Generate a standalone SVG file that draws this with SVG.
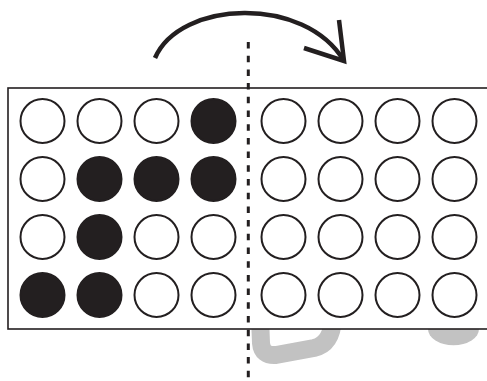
<svg xmlns="http://www.w3.org/2000/svg" width="487" height="381" viewBox="0 0 487 381">
<style>
.c{fill:#fff;stroke:#231f20;stroke-width:2}
.f{fill:#231f20;stroke:#231f20;stroke-width:2}
.gray{fill:none;stroke:#c2c2c2;stroke-width:18;stroke-linecap:round;stroke-linejoin:round}
</style>
<rect width="487" height="381" fill="#fff"/>
<g id="shadow">
<path class="gray" d="M260,318 L261,343 Q262,356 276,355 L314,348 Q332,344 333,318"/>
<path d="M428,329 A25,16 0 0 0 479,329 Z" fill="#c2c2c2"/>
</g>
<g id="board">
<rect x="8" y="88" width="490" height="241" fill="#fff" stroke="#231f20" stroke-width="1.6"/>
</g>
<g id="grid">
<circle class="c" cx="42.5" cy="121" r="22"/>
<circle class="c" cx="99.5" cy="121" r="22"/>
<circle class="c" cx="156.5" cy="121" r="22"/>
<circle class="f" cx="213.5" cy="121" r="22"/>
<circle class="c" cx="283.5" cy="121" r="22"/>
<circle class="c" cx="340.5" cy="121" r="22"/>
<circle class="c" cx="397.5" cy="121" r="22"/>
<circle class="c" cx="454.5" cy="121" r="22"/>
<circle class="c" cx="42.5" cy="179" r="22"/>
<circle class="f" cx="99.5" cy="179" r="22"/>
<circle class="f" cx="156.5" cy="179" r="22"/>
<circle class="f" cx="213.5" cy="179" r="22"/>
<circle class="c" cx="283.5" cy="179" r="22"/>
<circle class="c" cx="340.5" cy="179" r="22"/>
<circle class="c" cx="397.5" cy="179" r="22"/>
<circle class="c" cx="454.5" cy="179" r="22"/>
<circle class="c" cx="42.5" cy="237" r="22"/>
<circle class="f" cx="99.5" cy="237" r="22"/>
<circle class="c" cx="156.5" cy="237" r="22"/>
<circle class="c" cx="213.5" cy="237" r="22"/>
<circle class="c" cx="283.5" cy="237" r="22"/>
<circle class="c" cx="340.5" cy="237" r="22"/>
<circle class="c" cx="397.5" cy="237" r="22"/>
<circle class="c" cx="454.5" cy="237" r="22"/>
<circle class="f" cx="42.5" cy="295" r="22"/>
<circle class="f" cx="99.5" cy="295" r="22"/>
<circle class="c" cx="156.5" cy="295" r="22"/>
<circle class="c" cx="213.5" cy="295" r="22"/>
<circle class="c" cx="283.5" cy="295" r="22"/>
<circle class="c" cx="340.5" cy="295" r="22"/>
<circle class="c" cx="397.5" cy="295" r="22"/>
<circle class="c" cx="454.5" cy="295" r="22"/>
</g>
<g id="connectors" fill="none" stroke="#231f20">
<line x1="248.3" y1="42" x2="248.3" y2="381" stroke-width="3" stroke-dasharray="6.5 7.2"/>
<path d="M155,58 C180,0 305,-5 344,61" stroke-width="4.5"/>
<path d="M339,20 L344,61 L304,48" stroke-width="4.5" stroke-linejoin="miter"/>
</g>
</svg>
